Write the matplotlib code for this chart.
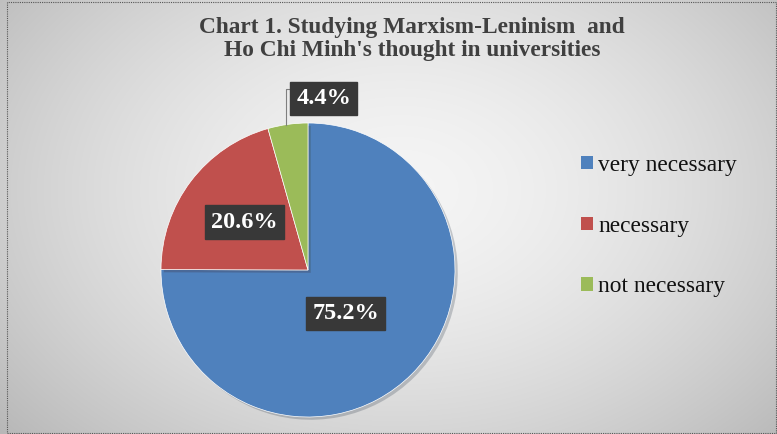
import numpy as np
import matplotlib.pyplot as plt
from matplotlib.patches import Rectangle
import matplotlib.patheffects as pe

# data
labels = ['very necessary', 'necessary', 'not necessary']
values = [75.2, 20.6, 4.4]
colors = ['#4F81BD', '#C0504D', '#9BBB59']
title = "Chart 1. Studying Marxism-Leninism  and\nHo Chi Minh's thought in universities"

W, H = 777, 434
fig = plt.figure(figsize=(W / 100, H / 100), dpi=100)

# radial grey background
bg = fig.add_axes([0, 0, 1, 1])
yy, xx = np.mgrid[0:H, 0:W]
d = np.sqrt(((xx - 400) / 470.0) ** 2 + ((yy - 190) / 330.0) ** 2)
shade = 0.96 - 0.2 * np.clip(d, 0, 1.2) ** 1.6
bg.imshow(np.dstack([shade] * 3), extent=[0, 1, 0, 1], aspect='auto', origin='upper')
bg.set_xlim(0, 1)
bg.set_ylim(0, 1)
bg.axis('off')
bg.add_patch(Rectangle((7 / W, 1 / H), (W - 8) / W, (H - 3) / H, fill=False,
                       ls=(0, (1, 1)), lw=0.8, ec='#555555', transform=fig.transFigure))

# pie
cx, cy, r = 308, 270, 147
ax = fig.add_axes([(cx - r) / W, (H - cy - r) / H, 2 * r / W, 2 * r / H])
wedges, _ = ax.pie(values, colors=colors, startangle=90, counterclock=False,
                   radius=1, wedgeprops=dict(linewidth=0.5, edgecolor='white'))
for w in wedges:
    w.set_path_effects([pe.SimplePatchShadow(offset=(2, -2), alpha=0.22), pe.Normal()])
ax.set_xlim(-1, 1)
ax.set_ylim(-1, 1)
ax.set_aspect('auto')
ax.axis('off')

box = dict(boxstyle='square,pad=0.25', fc='#383838', ec='#383838')
lab_font = dict(family='Liberation Serif', weight='bold', size=17.5, color='white')
dist = [0.39, 0.54, 1.18]
shift = [-4, 0, 0]
for w, v, dd, s in zip(wedges, values, dist, shift):
    ang = np.deg2rad((w.theta1 + w.theta2) / 2 + s)
    x, y = dd * np.cos(ang), dd * np.sin(ang)
    if dd > 1:
        ex, ey = np.cos(ang + np.deg2rad(0.6)), np.sin(ang + np.deg2rad(0.6))
        ax.plot([ex, ex, ex + 0.02], [ey, y + 0.06, y + 0.06], color='#7f7f7f', lw=0.8,
                clip_on=False)
        x = ex + 0.02 + 0.235
    ax.text(x, y, f'{v}%', ha='center', va='center', bbox=box, **lab_font)

fig.text(412 / W, 1 - 39 / H, title, ha='center', va='center', linespacing=1.12,
         family='Liberation Serif', weight='bold', size=16.8, color='#404040')

handles = [Rectangle((0, 0), 1, 1, fc=c) for c in colors]
leg = fig.legend(handles, labels, loc='upper left', bbox_to_anchor=(560 / W, 1 - 134 / H),
                 frameon=False, prop=dict(family='Liberation Serif', size=16.8),
                 handlelength=0.5, handleheight=0.5, handletextpad=0.25, labelspacing=1.7)
for t in leg.get_texts():
    t.set_color('#111111')

fig.savefig('out.png', dpi=100)
